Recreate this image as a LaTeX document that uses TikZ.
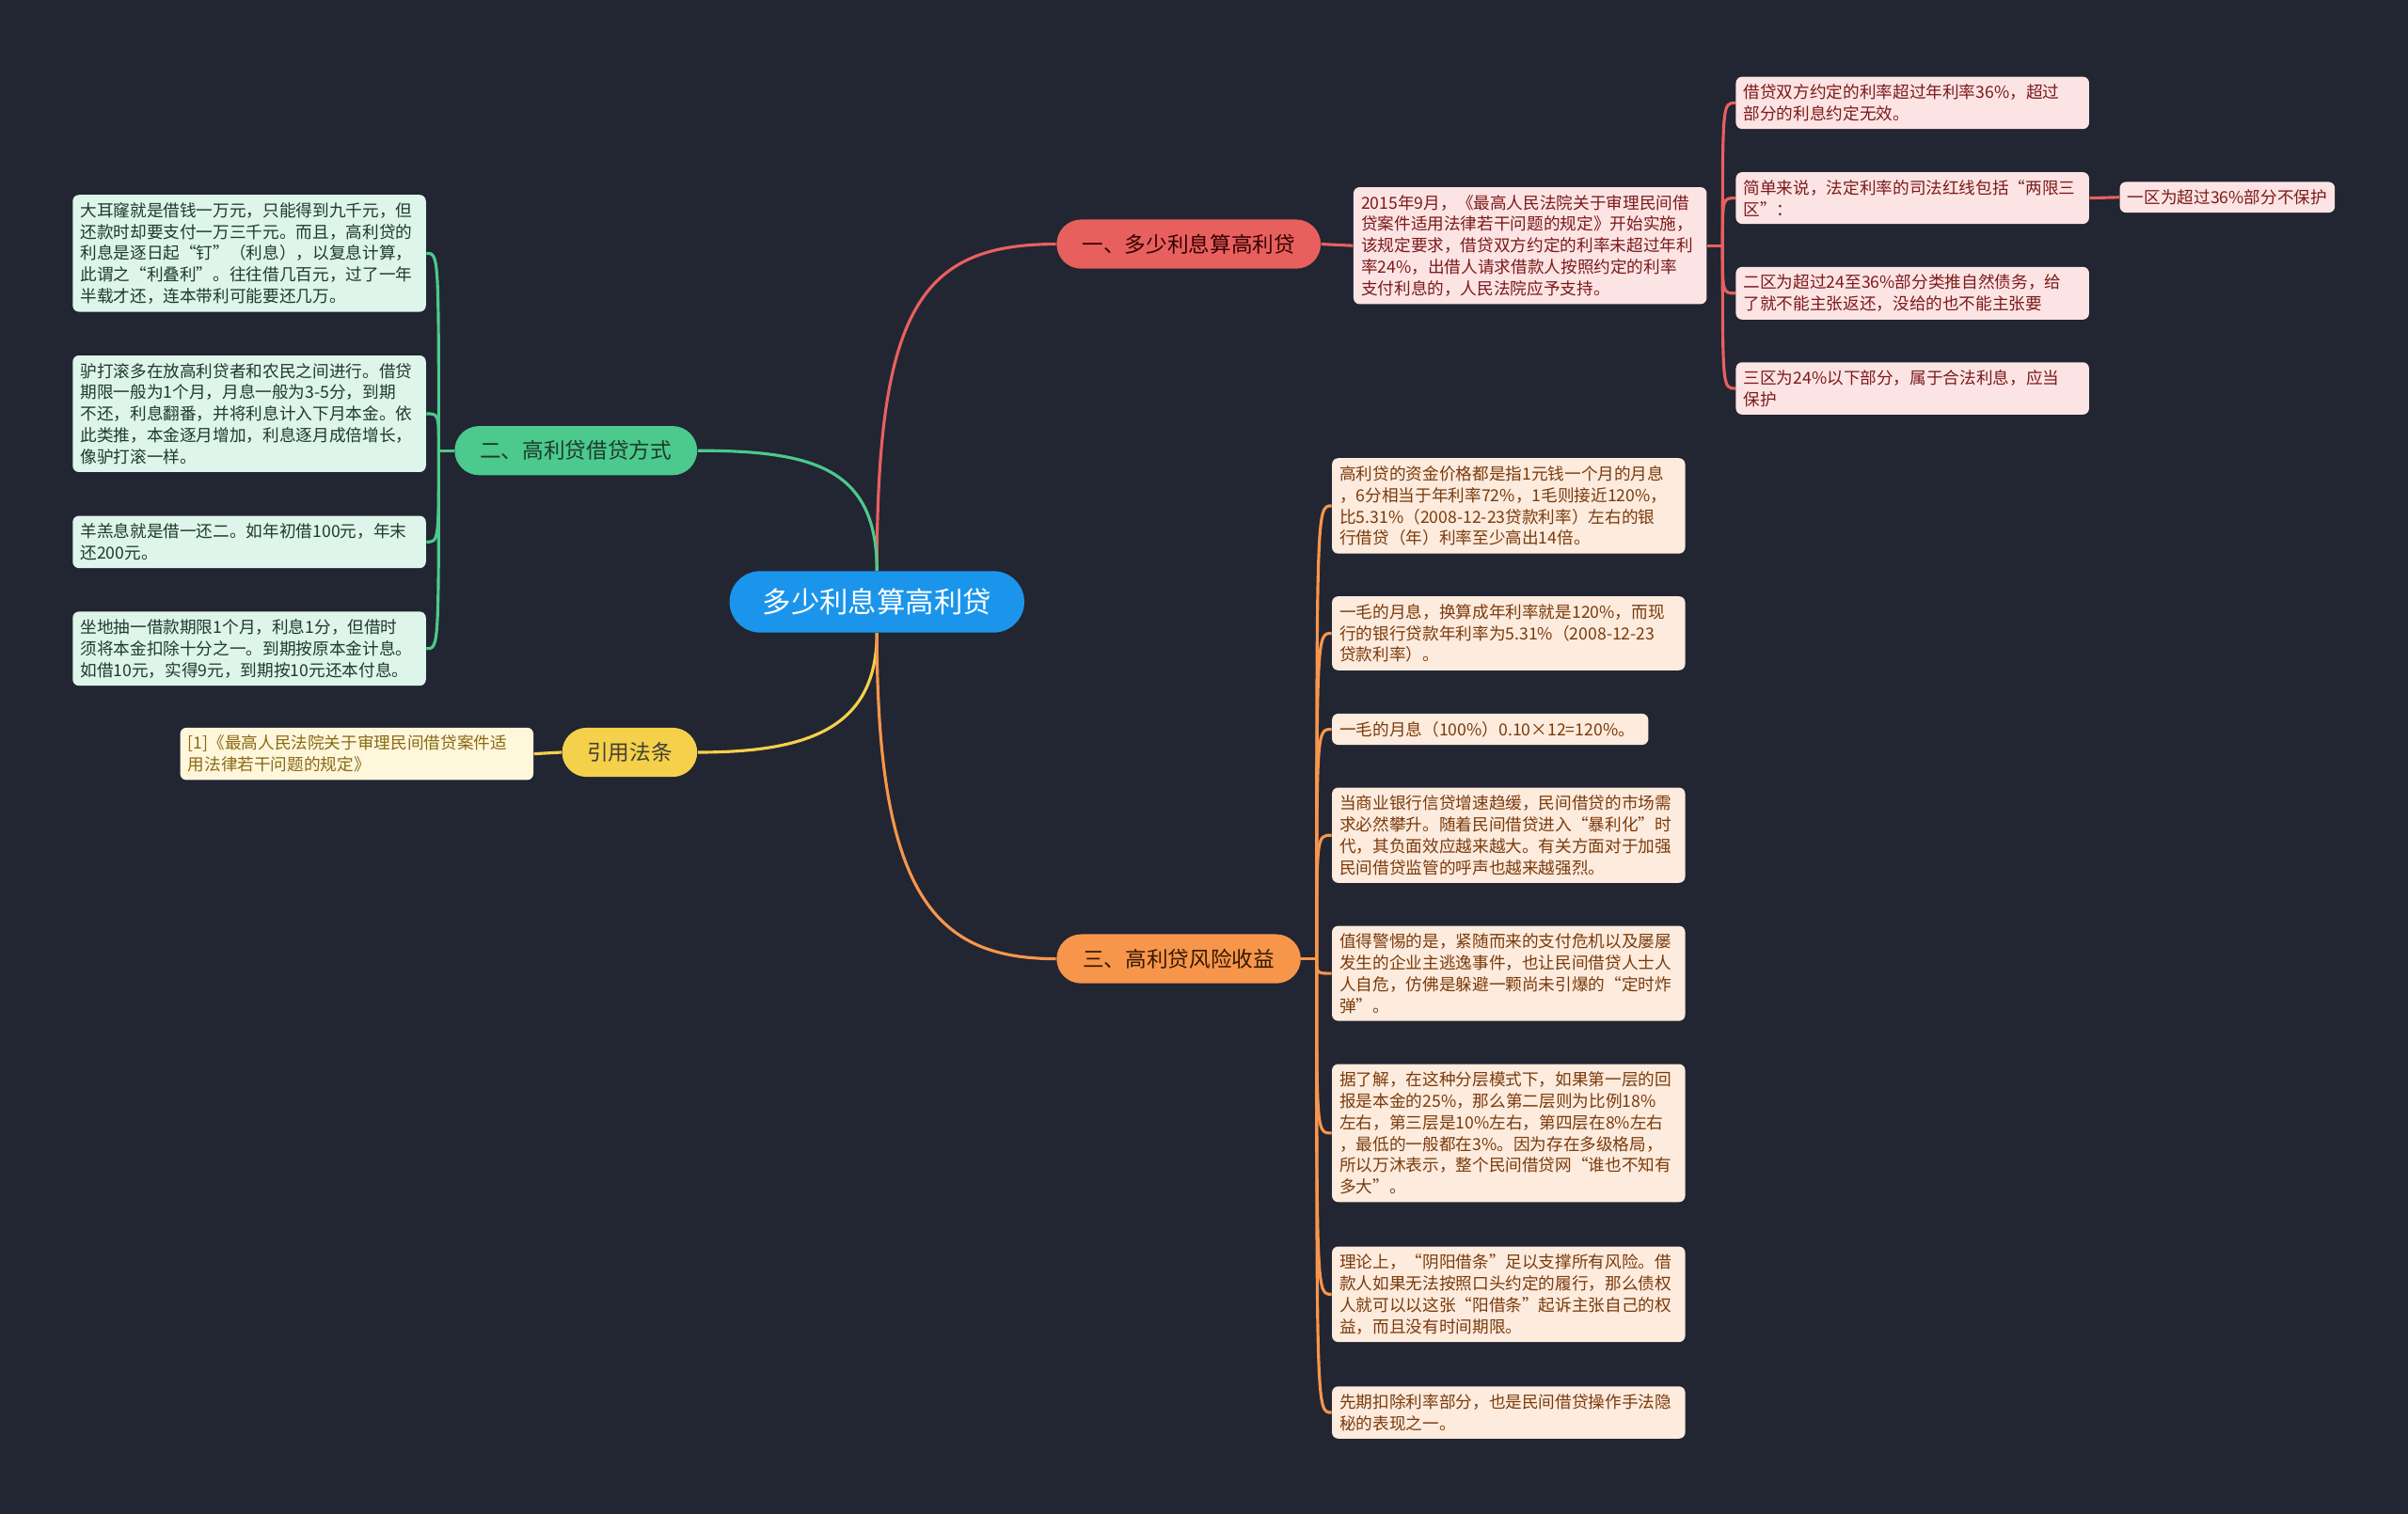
\documentclass[tikz,border=0pt]{standalone}
\usepackage{fontspec}
\setmainfont{Noto Sans CJK SC}
\usetikzlibrary{positioning}

\definecolor{bgdark}{HTML}{222532}
\definecolor{rootblue}{HTML}{1B95EB}
\definecolor{redline}{HTML}{E8605E}
\definecolor{redfill}{HTML}{FDE4E4}
\definecolor{redtext}{HTML}{7B1A1A}
\definecolor{greenline}{HTML}{4CC98D}
\definecolor{greenfill}{HTML}{DDF5EA}
\definecolor{greentext}{HTML}{1E3B2C}
\definecolor{orangeline}{HTML}{F7964B}
\definecolor{orangefill}{HTML}{FDEBDD}
\definecolor{orangetext}{HTML}{7A3B0D}
\definecolor{yellowline}{HTML}{F5D04A}
\definecolor{yellowfill}{HTML}{FFF7DC}
\definecolor{yellowtext}{HTML}{8A6A12}

\begin{document}
\begin{tikzpicture}[x=0.02cm,y=-0.02cm,
  leaf/.style={rounded corners=0.08cm, inner xsep=0.1cm, inner ysep=0.1cm,
    text width=4.4cm, align=left, anchor=west,
    font=\fontsize{6.15}{7.95}\selectfont},
  branch/.style={rounded corners=0.32cm, minimum height=0.64cm, inner sep=0pt,
    font=\fontsize{7.9}{9}\selectfont},
  link/.style={line width=1.1pt}]
  \useasboundingbox[fill=bgdark] (0,0) rectangle (1568,986);

  \node[fill=rootblue, text=white, rounded corners=0.4cm, minimum width=3.84cm,
    minimum height=0.8cm, font=\fontsize{10.6}{12}\selectfont] (root) at (571,392) {多少利息算高利贷};

  \node[branch, fill=redline, text=black!80!red, minimum width=3.44cm] (b1) at (774,159) {一、多少利息算高利贷};
  \node[branch, fill=greenline, text=greentext, minimum width=3.16cm] (b2) at (375,293.5) {二、高利贷借贷方式};
  \node[branch, fill=yellowline, text=black!85!yellow, minimum width=1.76cm] (b3) at (410,490) {引用法条};
  \node[branch, fill=orangeline, text=black!80!orange, minimum width=3.18cm] (b4) at (767.5,624.5) {三、高利贷风险收益};

  \draw[link, redline] (root.north) .. controls (571,200) and (600,159) .. (b1.west);
  \draw[link, greenline] (root.north) .. controls (571,305) and (530,293.5) .. (b2.east);
  \draw[link, yellowline] (root.south) .. controls (571,475) and (525,490) .. (b3.east);
  \draw[link, orangeline] (root.south) .. controls (571,585) and (610,624.5) .. (b4.west);

  \node[leaf, fill=redfill, text=redtext] (l1) at (881,160) {2015年9月，《最高人民法院关于审理民间借\\贷案件适用法律若干问题的规定》开始实施，\\该规定要求，借贷双方约定的利率未超过年利\\率24\%，出借人请求借款人按照约定的利率\\支付利息的，人民法院应予支持。};
  \node[leaf, fill=redfill, text=redtext] (r1) at (1130,67) {借贷双方约定的利率超过年利率36\%，超过\\部分的利息约定无效。};
  \node[leaf, fill=redfill, text=redtext] (r2) at (1130,129) {简单来说，法定利率的司法红线包括“两限三\\区”：};
  \node[leaf, fill=redfill, text=redtext, text width=2.6cm] (r2a) at (1380,128.5) {一区为超过36\%部分不保护};
  \node[leaf, fill=redfill, text=redtext] (r3) at (1130,191) {二区为超过24至36\%部分类推自然债务，给\\了就不能主张返还，没给的也不能主张要};
  \node[leaf, fill=redfill, text=redtext] (r4) at (1130,253) {三区为24\%以下部分，属于合法利息，应当\\保护};

  \draw[link, redline] (b1.east) -- (l1.west);
  \draw[link, redline] (l1.east) -- ++(10,0) coordinate (rs);
  \draw[link, redline] (rs) .. controls (rs |- r1.west) .. (r1.west);
  \draw[link, redline] (rs) .. controls (rs |- r2.west) .. (r2.west);
  \draw[link, redline] (rs) .. controls (rs |- r3.west) .. (r3.west);
  \draw[link, redline] (rs) .. controls (rs |- r4.west) .. (r4.west);
  \draw[link, redline] (r2.east) -- (r2a.west);

  \node[leaf, fill=greenfill, text=greentext] (g1) at (47,165) {大耳窿就是借钱一万元，只能得到九千元，但\\还款时却要支付一万三千元。而且，高利贷的\\利息是逐日起“钉”（利息），以复息计算，\\此谓之“利叠利”。往往借几百元，过了一年\\半载才还，连本带利可能要还几万。};
  \node[leaf, fill=greenfill, text=greentext] (g2) at (47,269.5) {驴打滚多在放高利贷者和农民之间进行。借贷\\期限一般为1个月，月息一般为3-5分，到期\\不还，利息翻番，并将利息计入下月本金。依\\此类推，本金逐月增加，利息逐月成倍增长，\\像驴打滚一样。};
  \node[leaf, fill=greenfill, text=greentext] (g3) at (47,353) {羊羔息就是借一还二。如年初借100元，年末\\还200元。};
  \node[leaf, fill=greenfill, text=greentext] (g4) at (47,422.5) {坐地抽一借款期限1个月，利息1分，但借时\\须将本金扣除十分之一。到期按原本金计息。\\如借10元，实得9元，到期按10元还本付息。};

  \draw[link, greenline] (b2.west) -- ++(-10,0) coordinate (gs);
  \draw[link, greenline] (gs) .. controls (gs |- g1.east) .. (g1.east);
  \draw[link, greenline] (gs) .. controls (gs |- g2.east) .. (g2.east);
  \draw[link, greenline] (gs) .. controls (gs |- g3.east) .. (g3.east);
  \draw[link, greenline] (gs) .. controls (gs |- g4.east) .. (g4.east);

  \node[leaf, fill=yellowfill, text=yellowtext] (y1) at (117,491) {[1]《最高人民法院关于审理民间借贷案件适\\用法律若干问题的规定》};
  \draw[link, yellowline] (b3.west) -- (y1.east);

  \node[leaf, fill=orangefill, text=orangetext] (o1) at (867,329.5) {高利贷的资金价格都是指1元钱一个月的月息\\，6分相当于年利率72\%，1毛则接近120\%，\\比5.31\%（2008-12-23贷款利率）左右的银\\行借贷（年）利率至少高出14倍。};
  \node[leaf, fill=orangefill, text=orangetext] (o2) at (867,412.5) {一毛的月息，换算成年利率就是120\%，而现\\行的银行贷款年利率为5.31\%（2008-12-23\\贷款利率）。};
  \node[leaf, fill=orangefill, text=orangetext, text width=3.92cm] (o3) at (867,475) {一毛的月息（100\%）0.10×12=120\%。};
  \node[leaf, fill=orangefill, text=orangetext] (o4) at (867,544) {当商业银行信贷增速趋缓，民间借贷的市场需\\求必然攀升。随着民间借贷进入“暴利化”时\\代，其负面效应越来越大。有关方面对于加强\\民间借贷监管的呼声也越来越强烈。};
  \node[leaf, fill=orangefill, text=orangetext] (o5) at (867,634) {值得警惕的是，紧随而来的支付危机以及屡屡\\发生的企业主逃逸事件，也让民间借贷人士人\\人自危，仿佛是躲避一颗尚未引爆的“定时炸\\弹”。};
  \node[leaf, fill=orangefill, text=orangetext] (o6) at (867,738) {据了解，在这种分层模式下，如果第一层的回\\报是本金的25\%，那么第二层则为比例18\%\\左右，第三层是10\%左右，第四层在8\%左右\\，最低的一般都在3\%。因为存在多级格局，\\所以万沐表示，整个民间借贷网“谁也不知有\\多大”。};
  \node[leaf, fill=orangefill, text=orangetext] (o7) at (867,843) {理论上，“阴阳借条”足以支撑所有风险。借\\款人如果无法按照口头约定的履行，那么债权\\人就可以以这张“阳借条”起诉主张自己的权\\益，而且没有时间期限。};
  \node[leaf, fill=orangefill, text=orangetext] (o8) at (867,920) {先期扣除利率部分，也是民间借贷操作手法隐\\秘的表现之一。};

  \draw[link, orangeline] (b4.east) -- ++(10,0) coordinate (os);
  \draw[link, orangeline] (os) .. controls (os |- o1.west) .. (o1.west);
  \draw[link, orangeline] (os) .. controls (os |- o2.west) .. (o2.west);
  \draw[link, orangeline] (os) .. controls (os |- o3.west) .. (o3.west);
  \draw[link, orangeline] (os) .. controls (os |- o4.west) .. (o4.west);
  \draw[link, orangeline] (os) .. controls (os |- o5.west) .. (o5.west);
  \draw[link, orangeline] (os) .. controls (os |- o6.west) .. (o6.west);
  \draw[link, orangeline] (os) .. controls (os |- o7.west) .. (o7.west);
  \draw[link, orangeline] (os) .. controls (os |- o8.west) .. (o8.west);
\end{tikzpicture}
\end{document}
